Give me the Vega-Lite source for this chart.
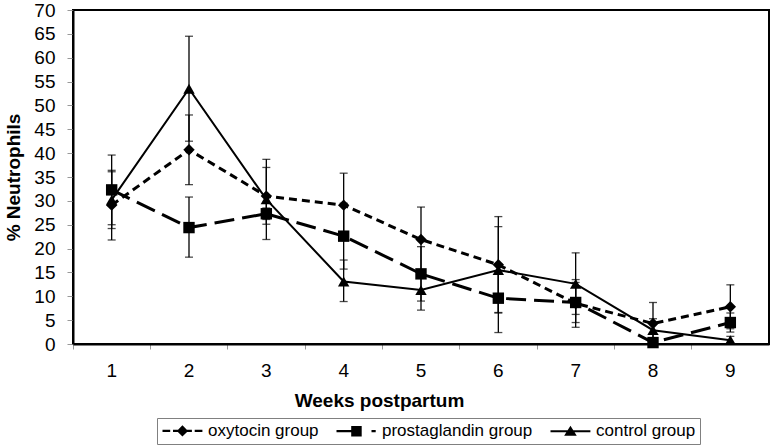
{
  "$schema": "https://vega.github.io/schema/vega-lite/v6.json",
  "width": 696,
  "height": 334,
  "autosize": {"type": "none"},
  "padding": {"left": 73, "top": 10, "right": 4, "bottom": 103},
  "background": "white",
  "config": {
    "font": "Liberation Sans",
    "view": {"stroke": "black", "strokeWidth": 2},
    "axis": {"grid": false, "domainColor": "black", "domainWidth": 2, "labelColor": "black", "titleColor": "black", "labelFont": "Liberation Sans", "titleFont": "Liberation Sans", "labelFontSize": 19, "titleFontSize": 19, "titleFontWeight": "bold", "tickColor": "#999999"}
  },
  "data": {
    "values": [
      {"week": 1, "group": "oxytocin group", "value": 29.1, "lo": 21.8, "hi": 36.4},
      {"week": 2, "group": "oxytocin group", "value": 40.7, "lo": 33.4, "hi": 48.0},
      {"week": 3, "group": "oxytocin group", "value": 31.0, "lo": 25.1, "hi": 37.0},
      {"week": 4, "group": "oxytocin group", "value": 29.1, "lo": 22.4, "hi": 35.8},
      {"week": 5, "group": "oxytocin group", "value": 21.9, "lo": 15.1, "hi": 28.7},
      {"week": 6, "group": "oxytocin group", "value": 16.6, "lo": 6.5, "hi": 26.7},
      {"week": 7, "group": "oxytocin group", "value": 8.5, "lo": 3.5, "hi": 13.5},
      {"week": 8, "group": "oxytocin group", "value": 4.3, "lo": 0.0, "hi": 8.7},
      {"week": 9, "group": "oxytocin group", "value": 7.8, "lo": 3.2, "hi": 12.4},
      {"week": 1, "group": "prostaglandin group", "value": 32.3, "lo": 25.0, "hi": 39.6},
      {"week": 2, "group": "prostaglandin group", "value": 24.4, "lo": 18.2, "hi": 30.8},
      {"week": 3, "group": "prostaglandin group", "value": 27.3, "lo": 26.1, "hi": 28.5},
      {"week": 4, "group": "prostaglandin group", "value": 22.6, "lo": 15.7, "hi": 29.5},
      {"week": 5, "group": "prostaglandin group", "value": 14.7, "lo": 9.0, "hi": 20.4},
      {"week": 6, "group": "prostaglandin group", "value": 9.6, "lo": 2.4, "hi": 16.8},
      {"week": 7, "group": "prostaglandin group", "value": 8.7, "lo": 4.5, "hi": 12.9},
      {"week": 8, "group": "prostaglandin group", "value": 0.3, "lo": 0.0, "hi": 0.8},
      {"week": 9, "group": "prostaglandin group", "value": 4.5, "lo": 2.5, "hi": 6.5},
      {"week": 1, "group": "control group", "value": 30.2, "lo": 24.2, "hi": 36.1},
      {"week": 2, "group": "control group", "value": 53.5, "lo": 42.5, "hi": 64.5},
      {"week": 3, "group": "control group", "value": 30.3, "lo": 21.9, "hi": 38.7},
      {"week": 4, "group": "control group", "value": 13.1, "lo": 8.9, "hi": 17.6},
      {"week": 5, "group": "control group", "value": 11.3, "lo": 7.1, "hi": 15.5},
      {"week": 6, "group": "control group", "value": 15.5, "lo": 6.6, "hi": 24.6},
      {"week": 7, "group": "control group", "value": 12.6, "lo": 6.2, "hi": 19.1},
      {"week": 8, "group": "control group", "value": 2.9, "lo": 0.5, "hi": 5.3},
      {"week": 9, "group": "control group", "value": 0.8, "lo": 0.0, "hi": 1.6}
    ]
  },
  "encoding": {
    "x": {
      "field": "week", "type": "ordinal",
      "scale": {"paddingInner": 0, "paddingOuter": 0},
      "axis": {"title": "Weeks postpartum", "titleX": 306, "titleY": 62, "titleBaseline": "alphabetic", "labelAngle": 0, "labelPadding": 12, "tickSize": 5, "bandPosition": 0}
    },
    "y": {"field": "value", "type": "quantitative", "scale": {"domain": [0, 70], "nice": false}, "axis": {"title": "% Neutrophils", "titleX": -50, "labelPadding": 12, "tickSize": 6, "values": [0, 5, 10, 15, 20, 25, 30, 35, 40, 45, 50, 55, 60, 65, 70]}}
  },
  "resolve": {"scale": {"shape": "independent"}, "legend": {"shape": "independent"}},
  "layer": [
    {
      "transform": [{"filter": "datum.group === 'oxytocin group'"}],
      "mark": {"type": "line", "color": "black", "strokeDash": [8, 5], "strokeWidth": 3},
      "encoding": {}
    },
    {
      "transform": [{"filter": "datum.group === 'prostaglandin group'"}],
      "mark": {"type": "line", "color": "black", "strokeDash": [20, 8], "strokeWidth": 3},
      "encoding": {}
    },
    {
      "transform": [{"filter": "datum.group === 'control group'"}],
      "mark": {"type": "line", "color": "black", "strokeWidth": 2},
      "encoding": {}
    },
    {
      "mark": {"type": "rule", "color": "black", "strokeWidth": 1.3},
      "encoding": {
        "y": {"field": "lo", "type": "quantitative"},
        "y2": {"field": "hi"}
      }
    },
    {
      "mark": {"type": "tick", "color": "black", "thickness": 1.3, "size": 8},
      "encoding": {"y": {"field": "lo", "type": "quantitative"}}
    },
    {
      "mark": {"type": "tick", "color": "black", "thickness": 1.3, "size": 8},
      "encoding": {"y": {"field": "hi", "type": "quantitative"}}
    },
    {
      "mark": {"type": "point", "filled": true, "color": "black", "opacity": 1, "size": 130},
      "encoding": {
        "shape": {
          "field": "group", "type": "nominal", "legend": null,
          "scale": {"domain": ["oxytocin group", "prostaglandin group", "control group"], "range": ["diamond", "square", "triangle-up"]}
        }
      }
    },
    {
      "mark": {"type": "point", "filled": true, "color": "black", "opacity": 0, "size": 196},
      "encoding": {
        "shape": {
          "field": "group", "type": "nominal",
          "scale": {"domain": ["oxytocin group", "prostaglandin group", "control group"], "range": [
            "M-1,-0.16H0.1V0.16H-1ZM0.5,-0.16H1.2V0.16H0.5ZM2.5,-0.16H3.2V0.16H2.5ZM3.6,-0.16H4.7V0.16H3.6ZM1.85,-0.8L2.65,0L1.85,0.8L1.05,0Z",
            "M-1,-0.16H1.2V0.16H-1ZM4.0,-0.16H4.6V0.16H4.0ZM1.1,-0.75H2.6V0.75H1.1Z",
            "M-1,-0.13H4.7V0.13H-1ZM1.85,-0.8L2.75,0.65H0.95Z"
          ]},
          "legend": {
            "title": null, "orient": "none", "legendX": 84, "legendY": 408, "direction": "horizontal", "columns": 3,
            "strokeColor": "#808080", "padding": 4, "fillColor": "white",
            "labelFontSize": 17, "labelColor": "black", "labelFont": "Liberation Sans", "labelOffset": 30,
            "symbolSize": 196, "columnPadding": 14, "symbolFillColor": "black", "symbolOpacity": 1
          }
        }
      }
    }
  ]
}
